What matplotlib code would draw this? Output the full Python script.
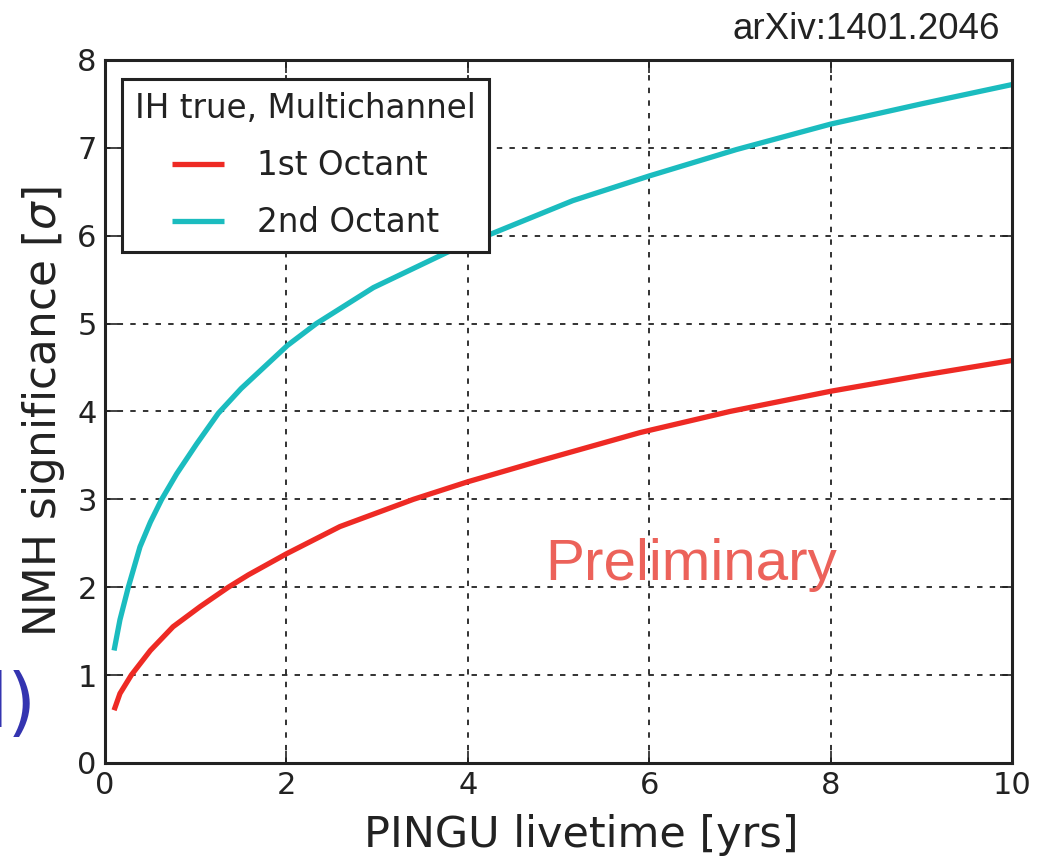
import numpy as np
import matplotlib
matplotlib.use("Agg")
import matplotlib.pyplot as plt

# Values (livetime in years, significance in sigma)
oct1_t = [0.1, 0.165, 0.29, 0.5, 0.75, 1.05, 1.36, 1.58, 2.0, 2.59, 3.4, 4.0,
          4.8, 5.9, 6.89, 8.0, 9.0, 10.0]
oct1_sig = [0.6, 0.79, 1.0, 1.28, 1.55, 1.78, 2.0, 2.14, 2.38, 2.69, 3.0, 3.2,
            3.44, 3.76, 4.0, 4.23, 4.41, 4.58]

oct2_t = [0.1, 0.165, 0.257, 0.386, 0.5, 0.625, 0.79, 1.01, 1.25, 1.5, 2.01,
          2.33, 2.96, 3.77, 4.21, 5.16, 6.0, 6.96, 8.0, 9.0, 10.0]
oct2_sig = [1.28, 1.63, 2.0, 2.46, 2.74, 3.0, 3.29, 3.63, 3.98, 4.26, 4.75,
            5.0, 5.41, 5.81, 6.0, 6.40, 6.68, 6.98, 7.27, 7.5, 7.72]

series_labels = ["1st Octant", "2nd Octant"]
series_colors = ["#ee2a24", "#1bbcbf"]

xticks = [0, 2, 4, 6, 8, 10]
yticks = [0, 1, 2, 3, 4, 5, 6, 7, 8]

plt.rcParams['font.family'] = ['DejaVu Sans']
ink = '#222222'

fig = plt.figure(figsize=(10.51, 8.59), dpi=100)
ax = fig.add_axes([0.0999, 0.1118, 0.8630, 0.8184])

for t, s, c, lab in [(oct1_t, oct1_sig, series_colors[0], series_labels[0]),
                     (oct2_t, oct2_sig, series_colors[1], series_labels[1])]:
    ax.plot(t, s, color=c, lw=3.8, label=lab, solid_capstyle='butt',
            solid_joinstyle='round')

ax.set_xlim(0, 10)
ax.set_ylim(0, 8)
ax.set_xticks(xticks)
ax.set_yticks(yticks)
ax.tick_params(direction='in', length=9, width=1.2, top=True, right=True,
               labelsize=22, colors=ink, pad=6)
ax.grid(True, color=ink, linestyle=(0, (3, 4)), linewidth=1.3)
for sp in ax.spines.values():
    sp.set_linewidth(2.2)
    sp.set_color(ink)

ax.set_xlabel("PINGU livetime [yrs]", fontsize=31, color=ink)
ax.xaxis.set_label_coords(0.525, -0.072)
ax.set_ylabel(r"NMH significance [$\sigma$]", fontsize=31.5, color=ink)
ax.yaxis.set_label_coords(-0.0415, 0.5)

leg = ax.legend(title="IH true, Multichannel", loc='upper left', fontsize=23.5,
                title_fontsize=23.5, fancybox=False, framealpha=1, edgecolor=ink,
                handlelength=1.6, handletextpad=1.0, borderpad=0.4,
                borderaxespad=0, bbox_to_anchor=(0.0187, 0.973), labelspacing=0.74)
leg.get_frame().set_linewidth(2.2)
for t in leg.get_texts():
    t.set_color(ink)
leg.get_title().set_color(ink)

ax.text(6.46, 2.08, "Preliminary", fontsize=42, color='#ec625a',
        family='Liberation Sans', ha='center', va='baseline')

fig.text(1000 / 1051, 1 - 39 / 859, "arXiv:1401.2046", fontsize=26.5,
         color=ink, family='Liberation Sans', ha='right', va='baseline')

fig.text(-13 / 1051, 1 - 727 / 859, "l)", fontsize=53, color='#3434b0',
         ha='left', va='baseline')

fig.savefig("out.png", dpi=100)
